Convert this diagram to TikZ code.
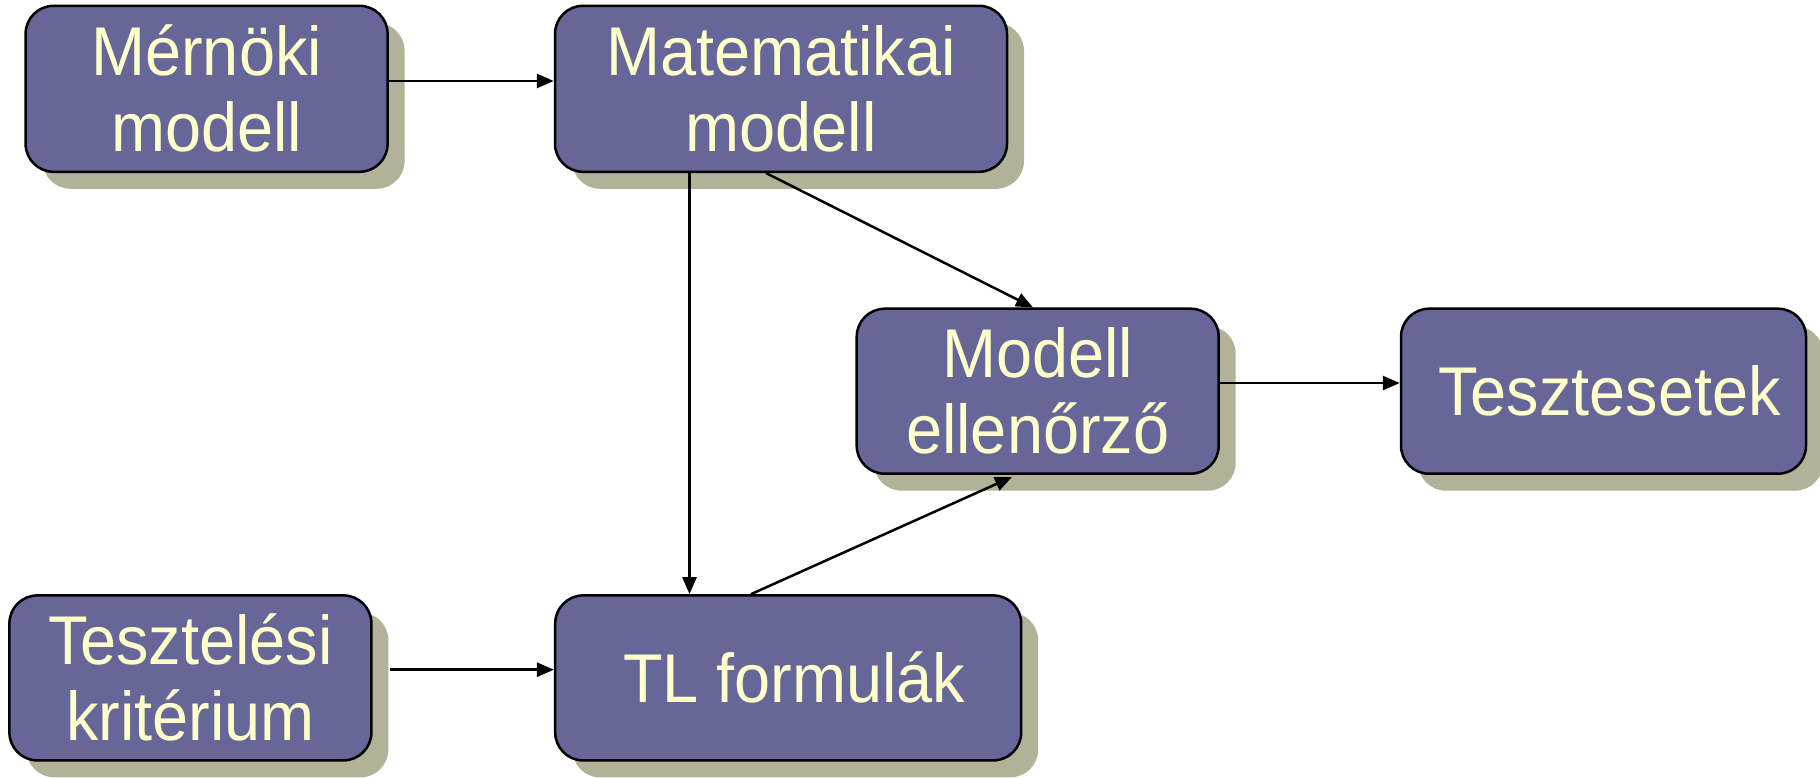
\documentclass[tikz,border=0pt]{standalone}
\usepackage{fontspec}
\setmainfont[FakeStretch=0.94]{Liberation Sans}
\usetikzlibrary{arrows.meta,shadows}
\definecolor{boxfill}{HTML}{666699}
\definecolor{shadowcol}{HTML}{B2B299}
\definecolor{textcol}{HTML}{FFFFCC}
\tikzset{
  box/.style={draw=black, line width=2.5pt, rounded corners=28pt, fill=boxfill,
    text=textcol, align=center, inner sep=0pt,
    font=\fontsize{69}{76}\selectfont,
    drop shadow={shadow xshift=17pt, shadow yshift=-17pt, fill=shadowcol, opacity=1}},
  arr/.style={line width=2.5pt, -{Triangle[length=17pt,width=14pt]}}
}
\begin{document}
\begin{tikzpicture}[x=1pt,y=-1pt]
\useasboundingbox (0,0) rectangle (1820,777);
\fill[white] (0,0) rectangle (1820,777);
\node[box, minimum width=362pt, minimum height=166pt] (mern) at (206.6,88.8) {Mérnöki\\modell};
\node[box, minimum width=452pt, minimum height=166pt] (mat) at (781,88.8) {Matematikai\\modell};
\node[box, minimum width=362pt, minimum height=165pt] (mod) at (1037.7,391.2) {Modell\\ellenőrző};
\node[box, minimum width=405pt, minimum height=165pt] (tc) at (1603.5,391.2) {\hspace*{12pt}Tesztesetek};
\node[box, minimum width=362pt, minimum height=165pt] (krit) at (190.4,677.9) {Tesztelési\\kritérium};
\node[box, minimum width=466pt, minimum height=165pt] (tl) at (788.2,677.9) {\hspace*{12pt}TL formulák};
\draw[arr] (mern.east |- 0,81) -- (mat.west |- 0,81);
\draw[arr] (mat.south -| 689.5,0) -- (tl.north -| 689.5,0);
\draw[arr] (mat.south -| 766,0) -- (mod.north -| 1033,0);
\draw[arr] (mod.east |- 0,383) -- (tc.west |- 0,383);
\draw[arr] ([xshift=17pt]krit.east |- 0,669.7) -- (tl.west |- 0,669.7);
\draw[arr] (tl.north -| 751,0) -- ([yshift=-2pt]mod.south -| 1012,0);
\end{tikzpicture}
\end{document}
